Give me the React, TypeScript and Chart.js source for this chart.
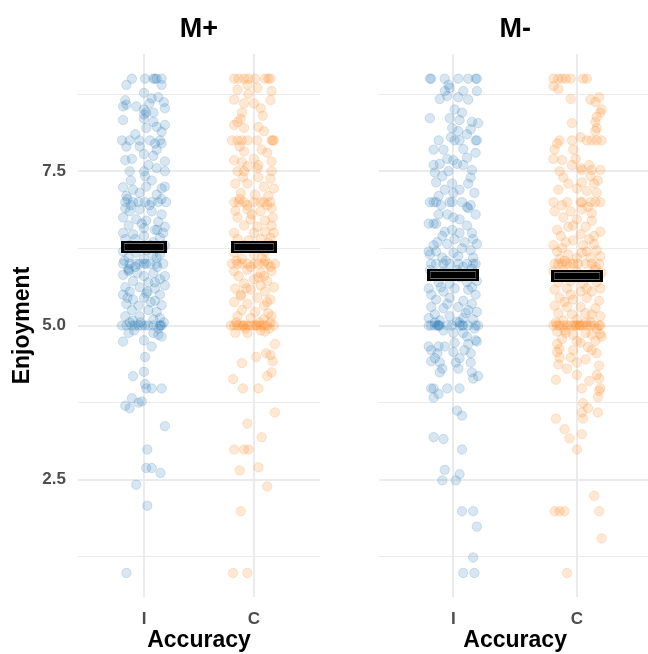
import React, { useEffect, useRef } from "react";
import { Chart, registerables } from "chart.js";

Chart.register(...registerables);

// ---------- data ----------
const accuracyLevels = ["I", "C"];
const yMajorTicks = [2.5, 5.0, 7.5];
const yMinorTicks = [1.25, 3.75, 6.25, 8.75];
const meansMPlus = [6.28, 6.27];
const meansMMinus = [5.82, 5.8];

// [jitter, Enjoyment]
const mPlusI = [
  [-0.11, 9], [0.01, 9], [0.085, 9], [0.1, 9], [0.115, 9], [0.16, 9],
  [-0.16, 8.9], [0.16, 8.9], [0, 8.77], [0.05, 8.6],
  [-0.17, 8.65], [0.07, 8.68], [0.13, 8.7], [0.18, 8.62], [-0.16, 8.58],
  [-0.19, 8.55], [-0.07, 8.55], [0, 8.5], [0.02, 8.45], [0.085, 8.45], [0.19, 8.52], [0, 8.42],
  [-0.19, 8.33], [0, 8.35], [0.085, 8.3], [0.115, 8.22], [0.19, 8.25], [0.02, 8.2], [0.16, 8.14], [-0.08, 8.1],
  [-0.2, 8], [-0.13, 8], [-0.04, 8], [0.055, 8], [0.145, 8], [0.1, 7.95],
  [-0.16, 7.9], [-0.04, 7.9], [0.115, 7.85], [0.16, 7.95], [-0.11, 7.7], [0, 7.78], [0.085, 7.75], [-0.17, 7.68], [0.19, 7.66], [0.04, 7.6],
  [-0.13, 7.5], [0, 7.5], [0.19, 7.5], [0.115, 7.55], [-0.12, 7.35],
  [0.01, 7.42], [0.07, 7.35], [-0.19, 7.24], [-0.1, 7.2], [0.02, 7.25], [0.16, 7.22], [0.19, 7.25], [-0.04, 7.15], [-0.16, 7.1], [0.115, 7.12],
  [-0.17, 7], [-0.1, 7], [0.01, 7], [0.07, 7], [0.2, 7], [-0.05, 7], [0.13, 7], [-0.15, 7.05], [0.05, 6.95], [-0.12, 6.95], [0.16, 7.05],
  [-0.17, 6.9], [-0.13, 6.85], [-0.04, 6.88], [0.07, 6.85], [0.16, 6.8], [-0.19, 6.75], [-0.07, 6.72], [0.02, 6.7], [0.13, 6.68], [0.19, 6.6], [-0.14, 6.62], [0, 6.58], [0.1, 6.55], [-0.19, 6.5], [-0.1, 6.48], [0.175, 6.5], [-0.02, 6.65], [0.12, 6.55],
  [-0.17, 6.4], [0, 6.45], [0.145, 6.42], [-0.13, 6.3], [0.085, 6.35], [0.19, 6.3], [-0.19, 6.2], [-0.07, 6.18], [0.02, 6.22], [0.145, 6.15], [-0.14, 6.1], [0, 6.08], [0.115, 6.1], [0.17, 6.25], [-0.08, 6.4], [0.06, 6.3], [0.08, 6.15],
  [-0.19, 6], [-0.13, 6], [-0.07, 6], [-0.04, 6], [0, 6], [0.02, 6], [0.055, 6], [0.115, 6], [0.175, 6], [-0.14, 5.92], [-0.14, 5.9], [-0.18, 6.05], [0.12, 5.95], [-0.08, 5.95],
  [-0.14, 5.88], [-0.19, 5.82], [0, 5.8], [0.085, 5.85], [0.19, 5.8], [-0.1, 5.72], [0.04, 5.7], [0.145, 5.75], [-0.17, 5.62], [-0.04, 5.62], [0.1, 5.6], [0.19, 5.65], [-0.13, 5.55], [0.02, 5.52], [0.145, 5.5], [-0.19, 5.5], [-0.06, 5.85], [0.1, 5.7], [0.03, 5.55],
  [-0.1, 5.42], [0, 5.45], [0.1, 5.4], [-0.16, 5.35], [-0.05, 5.32], [0.16, 5.33], [-0.11, 5.25], [0.04, 5.25], [0.115, 5.22], [-0.17, 5.15], [-0.04, 5.15], [0.145, 5.12], [-0.1, 5.08], [0.085, 5.1], [-0.15, 5.45], [0.06, 5.38],
  [-0.2, 5], [-0.16, 5], [-0.11, 5], [-0.08, 5], [-0.05, 5], [-0.02, 5], [0.01, 5], [0.04, 5], [0.085, 5], [0.145, 5], [0.15, 5], [0.16, 5], [0.18, 5.05], [-0.13, 5.05], [-0.03, 5.05], [0.13, 4.95], [-0.09, 4.92],
  [-0.14, 4.88], [0.085, 4.88], [0.16, 4.82], [0.13, 4.85], [-0.19, 4.74], [0, 4.76], [0.07, 4.66], [0.01, 4.49], [0, 4.25], [-0.1, 4.18], [0.01, 4.05],
  [0.02, 3.98], [0.07, 3.98], [0.16, 3.98], [-0.11, 3.82], [-0.02, 3.77], [-0.05, 3.75], [-0.17, 3.7], [-0.13, 3.66], [0.19, 3.37],
  [0.03, 2.99], [0.02, 2.69], [0.07, 2.69], [0.15, 2.61], [-0.07, 2.42], [0.03, 2.08], [-0.16, 0.99],
];

const mPlusC = [
  [-0.18, 9], [-0.14, 9], [-0.09, 9], [-0.05, 9], [0.01, 9], [0.1, 9], [0.13, 9], [0.15, 9],
  [-0.06, 8.9], [0.03, 8.85], [0.16, 8.8], [-0.15, 8.82], [-0.05, 8.75],
  [-0.18, 8.66], [-0.09, 8.6], [0.06, 8.52], [0.15, 8.65], [-0.11, 8.45], [0, 8.6], [0.08, 8.4],
  [-0.12, 8.35], [-0.18, 8.25], [-0.09, 8.2], [0.04, 8.22], [0.09, 8.15], [-0.15, 8.3],
  [-0.2, 8], [-0.15, 8], [-0.11, 8], [-0.06, 8], [0.03, 8], [0.16, 8], [0.18, 8], [0.17, 8], [-0.13, 7.9],
  [0.07, 7.85], [-0.09, 7.82], [-0.18, 7.68], [0.16, 7.66], [0, 7.7], [-0.11, 7.65], [-0.06, 7.58], [0.04, 7.6], [0.12, 7.8],
  [-0.15, 7.5], [-0.09, 7.5], [0.16, 7.5], [0.03, 7.55], [-0.1, 7.4],
  [0.04, 7.4], [0.15, 7.38], [-0.17, 7.3], [-0.06, 7.3], [0.09, 7.25], [0.18, 7.22], [-0.12, 7.15], [0.01, 7.12], [0.13, 7.1],
  [-0.18, 7], [-0.14, 7], [-0.09, 7], [0, 7], [0.06, 7], [0.09, 7], [0.15, 7], [-0.13, 7.05], [0.12, 6.95], [-0.06, 6.95],
  [-0.17, 6.86], [-0.06, 6.88], [0.06, 6.85], [0.16, 6.9], [-0.15, 6.75], [-0.03, 6.72], [0.1, 6.7], [-0.09, 6.62], [0.03, 6.6], [0.16, 6.62], [-0.18, 6.5], [0, 6.5], [0.1, 6.52], [-0.02, 6.8], [0.17, 6.75], [0.18, 6.5],
  [-0.15, 6.4], [-0.05, 6.38], [0.15, 6.42], [-0.09, 6.3], [0.03, 6.28], [0.16, 6.3], [-0.18, 6.18], [0, 6.15], [0.1, 6.2], [-0.11, 6.08], [0.07, 6.1], [0.13, 6.35], [-0.12, 6.25], [0.06, 6.4], [-0.16, 6.05], [0.1, 6.05],
  [-0.2, 6], [-0.15, 6], [-0.11, 6], [-0.06, 6], [0, 6], [0.04, 6], [0.09, 6], [0.13, 6], [0.19, 6], [0.15, 5.95], [-0.03, 5.95],
  [-0.18, 5.88], [-0.06, 5.9], [0.06, 5.85], [0.16, 5.88], [0.09, 5.8], [-0.14, 5.8], [0, 5.75], [0.12, 5.72], [-0.09, 5.68], [0.06, 5.65], [0.18, 5.62], [-0.17, 5.6], [-0.03, 5.58], [0.1, 5.55], [0.04, 5.78], [-0.07, 5.6],
  [-0.12, 5.48], [0.03, 5.45], [0.15, 5.42], [-0.18, 5.38], [-0.06, 5.35], [0.09, 5.32], [-0.11, 5.25], [0.01, 5.22], [0.13, 5.2], [-0.15, 5.15], [-0.03, 5.12], [0.09, 5.1], [0.16, 5.15], [-0.12, 5.5], [0.12, 5.38],
  [-0.21, 5], [-0.18, 5], [-0.15, 5], [-0.12, 5], [-0.09, 5], [-0.06, 5], [-0.03, 5], [0, 5], [0.03, 5], [0.06, 5], [0.09, 5], [0.12, 5], [0.18, 5], [-0.1, 5], [0.02, 5], [0.05, 5.05], [-0.16, 5.05], [0.15, 5.05], [-0.08, 4.95], [0.14, 4.95], [0.06, 4.92],
  [-0.17, 4.88], [-0.06, 4.88], [0.1, 4.9], [0.19, 4.7], [0.11, 4.55], [0.15, 4.52], [0.02, 4.49], [0.17, 4.42], [-0.11, 4.39], [0.16, 4.24], [0.12, 4.18], [-0.19, 4.13],
  [-0.1, 3.98], [0.04, 3.98], [0.19, 3.59], [-0.06, 3.41], [0.07, 3.19], [-0.18, 2.99], [-0.09, 2.99], [-0.05, 2.99], [0.04, 2.7], [-0.13, 2.65], [0.12, 2.39],
  [-0.12, 1.99], [-0.19, 0.99], [-0.06, 0.99],
];

const mMinusI = [
  [-0.19, 9], [-0.18, 9], [-0.07, 9], [0.04, 9], [0.12, 9], [0.18, 9], [0.19, 9],
  [-0.04, 8.9], [-0.03, 8.85], [0.08, 8.8], [0.19, 8.8], [-0.07, 8.8],
  [-0.11, 8.67], [0.04, 8.7], [0.12, 8.66], [-0.05, 8.72],
  [0.01, 8.5], [0.07, 8.45], [-0.19, 8.36], [-0.03, 8.36], [0.05, 8.33], [0.15, 8.3], [0.2, 8.28],
  [-0.01, 8.2], [0.04, 8.15], [0.14, 8.18], [0.11, 8.1], [-0.02, 8.05],
  [-0.12, 8], [0.01, 8], [0.05, 8], [0.18, 8], [0.19, 8],
  [-0.16, 7.85], [-0.08, 7.85], [0.08, 7.86], [0.18, 7.8], [-0.05, 7.7], [0, 7.68], [0.11, 7.72], [0.03, 7.62], [-0.16, 7.6], [-0.11, 7.62], [0.08, 7.6],
  [-0.04, 7.5], [0.15, 7.52], [-0.15, 7.48],
  [-0.09, 7.42], [0.14, 7.4], [-0.14, 7.32], [-0.01, 7.3], [0.12, 7.3], [-0.07, 7.2], [0.05, 7.2], [0, 7.15], [-0.12, 7.1], [0.17, 7.15],
  [-0.19, 7], [-0.16, 7], [-0.14, 7], [-0.03, 7], [-0.01, 7], [0.07, 7], [-0.1, 6.95], [0.14, 6.95],
  [0.11, 6.92], [0.12, 6.9], [0.18, 6.8], [-0.12, 6.8], [0, 6.75], [0.05, 6.72], [-0.2, 6.65], [-0.16, 6.65], [-0.14, 6.65], [0.11, 6.62], [-0.01, 6.55], [-0.07, 6.52], [0.15, 6.5], [0.05, 6.5], [-0.09, 6.45], [0.01, 6.4], [-0.05, 6.8],
  [-0.2, 6.2], [-0.16, 6.3], [-0.05, 6.32], [0.07, 6.25], [0.19, 6.32], [-0.14, 6.2], [0, 6.18], [0.14, 6.22], [-0.09, 6.1], [0.04, 6.12], [0.16, 6.1], [-0.19, 6.15], [0.16, 6.4], [-0.13, 6.35], [0.09, 6.35], [-0.06, 6.05],
  [-0.18, 6], [-0.14, 6], [-0.08, 6], [-0.03, 6], [0.04, 6], [0.11, 6], [0.16, 6], [0.18, 6], [0.08, 5.95],
  [-0.19, 5.9], [-0.08, 5.88], [0.03, 5.9], [0.15, 5.92], [-0.12, 5.7], [-0.03, 5.68], [0.11, 5.7], [0.19, 5.72], [-0.2, 5.6], [-0.08, 5.55], [0.01, 5.6], [0.12, 5.58], [0.18, 5.5], [-0.18, 5.5], [-0.15, 5.82], [0.05, 5.78], [-0.1, 5.62], [0.15, 5.62],
  [-0.14, 5.42], [-0.03, 5.45], [0.08, 5.4], [0.15, 5.35], [-0.18, 5.3], [-0.08, 5.28], [0.04, 5.3], [0.12, 5.25], [0.19, 5.22], [-0.15, 5.18], [-0.03, 5.15], [0.08, 5.12], [-0.11, 5.08], [0.03, 5.06], [0.16, 5.1], [-0.2, 5.12], [-0.05, 5.35], [0.1, 5.2],
  [-0.2, 5], [-0.18, 5], [-0.15, 5], [-0.12, 5], [-0.12, 5], [-0.11, 5], [-0.05, 5], [-0.01, 5], [0.05, 5], [0.07, 5], [0.08, 5], [0.12, 5], [0.18, 5], [0.2, 5], [-0.13, 5], [-0.15, 5.05], [0.05, 5.05], [0.17, 4.95], [-0.08, 4.92],
  [0, 4.88], [0.08, 4.88], [0.11, 4.82], [0.18, 4.76], [0.19, 4.74], [0.01, 4.72], [-0.2, 4.66], [-0.12, 4.66], [-0.07, 4.66], [-0.18, 4.6], [0, 4.57], [0.09, 4.6], [0.14, 4.55], [0.12, 4.7], [-0.13, 4.55],
  [-0.15, 4.47], [-0.18, 4.42], [0.05, 4.47], [0.14, 4.4], [-0.11, 4.4], [0.04, 4.3], [-0.09, 4.3], [-0.11, 4.24], [0.15, 4.24], [0.2, 4.18], [0.16, 4.14], [0.02, 4.4],
  [-0.18, 3.98], [-0.16, 3.98], [-0.05, 3.98], [0.05, 3.98], [-0.12, 3.89], [-0.16, 3.83], [0.03, 3.62], [0.07, 3.54], [-0.16, 3.19], [-0.08, 3.16],
  [0.07, 2.99], [-0.07, 2.66], [0.05, 2.59], [-0.09, 2.49], [0.02, 2.49], [0.07, 1.99], [0.16, 1.99], [0.19, 1.74], [0.16, 1.24], [0.08, 0.99], [0.17, 0.99],
];

const mMinusC = [
  [-0.19, 9], [-0.12, 9], [-0.09, 9], [-0.05, 9], [0.05, 9], [0.08, 9], [-0.15, 9],
  [-0.19, 8.88], [-0.15, 8.83],
  [-0.05, 8.67], [0.11, 8.66], [0.18, 8.7], [0.15, 8.62],
  [0.2, 8.5], [0.19, 8.45], [0.16, 8.38], [0.15, 8.3], [-0.04, 8.28], [0.16, 8.2], [0.15, 8.15], [0.03, 8.05],
  [-0.14, 8], [-0.04, 8], [0.08, 8], [0.12, 8], [0.16, 8], [0.2, 8], [-0.16, 7.95],
  [-0.18, 7.85], [-0.03, 7.85], [-0.19, 7.7], [-0.12, 7.68], [-0.01, 7.7], [-0.04, 7.6], [0.03, 7.55], [0.1, 7.6],
  [0.04, 7.52], [0.12, 7.52], [0.19, 7.52], [-0.14, 7.5],
  [-0.11, 7.4], [0.11, 7.42], [-0.07, 7.3], [0.04, 7.32], [0.14, 7.3], [-0.15, 7.2], [0, 7.22], [0.08, 7.18], [0.16, 7.15], [0.17, 7.35],
  [-0.19, 7], [-0.08, 7], [0.03, 7], [0.04, 7], [0.11, 7], [0.15, 7], [0.19, 7], [-0.12, 6.95], [0.09, 6.92],
  [-0.18, 6.85], [-0.05, 6.85], [0.04, 6.88], [0.12, 6.82], [0, 6.72], [0.12, 6.7], [-0.11, 6.75], [-0.03, 6.62], [0.07, 6.6], [0.19, 6.52], [-0.16, 6.55], [0.03, 6.48], [0.14, 6.45], [-0.07, 6.6], [-0.13, 6.45],
  [-0.19, 6.3], [-0.09, 6.35], [-0.03, 6.38], [0.05, 6.3], [0.14, 6.32], [-0.16, 6.2], [-0.07, 6.15], [0.04, 6.18], [0.16, 6.22], [-0.14, 6.08], [0, 6.1], [0.11, 6.1], [0.19, 6.12], [0.1, 6.4], [-0.12, 6.25], [0.08, 6.2], [-0.1, 6.05],
  [-0.18, 6], [-0.15, 6], [-0.12, 6], [-0.08, 6], [-0.05, 6], [-0.03, 6], [0.01, 6], [0.07, 6], [0.12, 6], [0.18, 6], [0.15, 5.95],
  [-0.19, 5.88], [-0.11, 5.9], [0, 5.88], [0.14, 5.9], [0.2, 5.85], [-0.15, 5.7], [-0.05, 5.72], [0.05, 5.68], [0.16, 5.7], [-0.18, 5.58], [-0.08, 5.6], [0.03, 5.55], [0.12, 5.55], [0.19, 5.6], [-0.13, 5.8], [0.09, 5.8], [-0.05, 5.5], [0.08, 5.6],
  [-0.14, 5.45], [-0.03, 5.42], [0.08, 5.45], [0.18, 5.4], [-0.18, 5.32], [-0.08, 5.3], [0.03, 5.3], [0.15, 5.28], [-0.15, 5.2], [-0.04, 5.18], [0.07, 5.2], [0.19, 5.15], [-0.11, 5.08], [0, 5.1], [0.11, 5.06], [-0.1, 5.38], [0.12, 5.18],
  [-0.19, 5], [-0.16, 5], [-0.14, 5], [-0.11, 5], [-0.08, 5], [-0.05, 5], [-0.03, 5], [0, 5], [0.03, 5], [0.05, 5], [0.08, 5], [0.11, 5], [0.14, 5], [0.18, 5], [0.19, 5], [0.02, 5], [-0.01, 5], [-0.17, 5.05], [0.07, 5.05], [0.16, 4.95], [-0.1, 4.92],
  [-0.16, 4.9], [-0.09, 4.88], [-0.03, 4.85], [0.07, 4.88], [0.12, 4.85], [0.19, 4.86], [-0.12, 4.78], [0.03, 4.72], [0.15, 4.75], [0.2, 4.82], [-0.16, 4.7], [0, 4.75],
  [-0.14, 4.62], [-0.03, 4.6], [0.12, 4.6], [0.16, 4.55], [-0.16, 4.57], [0.09, 4.65],
  [-0.14, 4.48], [-0.05, 4.48], [0.07, 4.45], [-0.15, 4.37], [0, 4.4], [0.18, 4.35], [-0.08, 4.3],
  [0, 4.2], [0.16, 4.2], [-0.17, 4.12], [0.18, 4.14], [0.1, 4.1],
  [0.04, 3.98], [0.19, 3.98], [0.18, 3.94], [0.17, 3.84], [0.05, 3.74], [0.09, 3.66], [0.04, 3.59], [0.17, 3.59], [-0.17, 3.49], [0.05, 3.49],
  [-0.1, 3.32], [0.04, 3.24], [-0.06, 3.17], [0, 2.99], [0.14, 2.24], [-0.18, 1.99], [-0.14, 1.99], [-0.1, 1.99], [0.18, 1.99], [0.2, 1.55], [-0.08, 0.99],
];

// ---------- styling ----------
const FONT = '"Liberation Sans", Arial, Helvetica, sans-serif';
const BLUE = "31,119,180";
const ORANGE = "255,127,14";
const PT_ALPHA = 0.18;

const toPoints = (pts: number[][], cat: number) => pts.map(([j, v]) => ({ x: cat + j, y: v }));

const crossbarPlugin = (means: number[]) => ({
  id: "crossbar",
  afterDatasetsDraw(chart: any) {
    const { ctx, scales } = chart;
    const xs = scales.x;
    const ys = scales.y;
    means.forEach((m, i) => {
      const x0 = Math.round(xs.getPixelForValue(i - 0.21));
      const x1 = Math.round(xs.getPixelForValue(i + 0.21));
      const yc = Math.round(ys.getPixelForValue(m));
      ctx.save();
      ctx.fillStyle = "#000";
      ctx.fillRect(x0, yc - 6, x1 - x0, 12);
      ctx.strokeStyle = "rgba(120,120,120,0.9)";
      ctx.lineWidth = 1;
      ctx.beginPath();
      ctx.moveTo(x0 + 3, yc - 3.5);
      ctx.lineTo(x1 - 3, yc - 3.5);
      ctx.moveTo(x0 + 3, yc + 3.5);
      ctx.lineTo(x1 - 3, yc + 3.5);
      ctx.stroke();
      ctx.strokeStyle = "rgba(90,90,90,0.6)";
      ctx.beginPath();
      ctx.moveTo(x0 + 3.5, yc - 3.5);
      ctx.lineTo(x0 + 3.5, yc + 3.5);
      ctx.moveTo(x1 - 3.5, yc - 3.5);
      ctx.lineTo(x1 - 3.5, yc + 3.5);
      ctx.stroke();
      ctx.restore();
    });
  },
});

type PanelProps = {
  title: string;
  groups: number[][][];
  means: number[];
  left: number;
  width: number;
  yWidth: number;
  padRight: number;
  showY: boolean;
};

function Panel({ title, groups, means, left, width, yWidth, padRight, showY }: PanelProps) {
  const ref = useRef<HTMLCanvasElement | null>(null);
  useEffect(() => {
    if (!ref.current) return;
    const tickFont = { family: FONT, size: 17, weight: "bold" as const };
    const titleFont = { family: FONT, size: 23, weight: "bold" as const };
    const allYTicks = [...yMinorTicks, ...yMajorTicks].sort((a, b) => a - b);
    const chart = new Chart(ref.current, {
      type: "scatter",
      data: {
        datasets: [
          {
            label: accuracyLevels[0],
            data: toPoints(groups[0], 0),
            backgroundColor: `rgba(${BLUE},${PT_ALPHA})`,
            borderColor: `rgba(${BLUE},${PT_ALPHA})`,
            borderWidth: 1,
            pointRadius: 4.7,
            pointHoverRadius: 4.7,
          },
          {
            label: accuracyLevels[1],
            data: toPoints(groups[1], 1),
            backgroundColor: `rgba(${ORANGE},${PT_ALPHA})`,
            borderColor: `rgba(${ORANGE},${PT_ALPHA})`,
            borderWidth: 1,
            pointRadius: 4.7,
            pointHoverRadius: 4.7,
          },
        ],
      },
      options: {
        responsive: false,
        maintainAspectRatio: false,
        animation: false,
        events: [],
        layout: { padding: { left: 0, right: padRight, top: 0, bottom: 0 } },
        plugins: {
          legend: { display: false },
          tooltip: { enabled: false },
          title: { display: false },
        },
        scales: {
          x: {
            type: "linear",
            position: "bottom",
            min: -0.6,
            max: 1.6,
            afterBuildTicks: (s: any) => {
              s.ticks = accuracyLevels.map((_, i) => ({ value: i }));
            },
            afterFit: (s: any) => {
              s.height = 57;
            },
            grid: { color: "#ebebeb", lineWidth: 2, drawTicks: false },
            border: { display: false },
            ticks: {
              autoSkip: false,
              maxRotation: 0,
              padding: 12,
              color: "#4d4d4d",
              font: tickFont,
              callback: (v: any) => accuracyLevels[v] ?? "",
            },
            title: {
              display: true,
              text: "Accuracy",
              color: "#000",
              font: titleFont,
              padding: { top: 0, bottom: 0 },
            },
          },
          strip: {
            type: "linear",
            position: "top",
            min: -0.6,
            max: 1.6,
            grid: { display: false },
            border: { display: false },
            ticks: { display: false },
            afterFit: (s: any) => {
              s.height = 54;
            },
            title: {
              display: true,
              text: title,
              color: "#000",
              font: { family: FONT, size: 27, weight: "bold" },
              padding: { top: 13, bottom: 0 },
            },
          },
          y: {
            type: "linear",
            position: "left",
            min: 0.6,
            max: 9.4,
            afterBuildTicks: (s: any) => {
              s.ticks = allYTicks.map((v) => ({ value: v }));
            },
            afterFit: (s: any) => {
              s.width = yWidth;
            },
            grid: {
              color: "#ebebeb",
              lineWidth: (ctx: any) => (yMajorTicks.includes(ctx.tick?.value) ? 2 : 1),
              drawTicks: false,
            },
            border: { display: false },
            ticks: {
              display: showY,
              padding: 12,
              color: "#4d4d4d",
              font: tickFont,
              callback: (v: any) => (yMajorTicks.includes(v) ? Number(v).toFixed(1) : ""),
            },
            title: {
              display: showY,
              text: "Enjoyment",
              color: "#000",
              font: titleFont,
              padding: { top: 9, bottom: 0 },
            },
          },
        },
      } as any,
      plugins: [crossbarPlugin(means)],
    });
    return () => chart.destroy();
  }, []);
  return (
    <canvas
      ref={ref}
      width={width}
      height={654}
      style={{ position: "absolute", left, top: 0, width, height: 654 }}
    />
  );
}

export default function App() {
  return (
    <div
      style={{
        position: "absolute",
        left: 0,
        top: 0,
        width: 648,
        height: 654,
        overflow: "hidden",
        background: "#fff",
      }}
    >
      <Panel
        title="M+"
        groups={[mPlusI, mPlusC]}
        means={meansMPlus}
        left={0}
        width={350}
        yWidth={78}
        padRight={30}
        showY={true}
      />
      <Panel
        title="M-"
        groups={[mMinusI, mMinusC]}
        means={meansMMinus}
        left={350}
        width={310}
        yWidth={29.3}
        padRight={9}
        showY={false}
      />
    </div>
  );
}
